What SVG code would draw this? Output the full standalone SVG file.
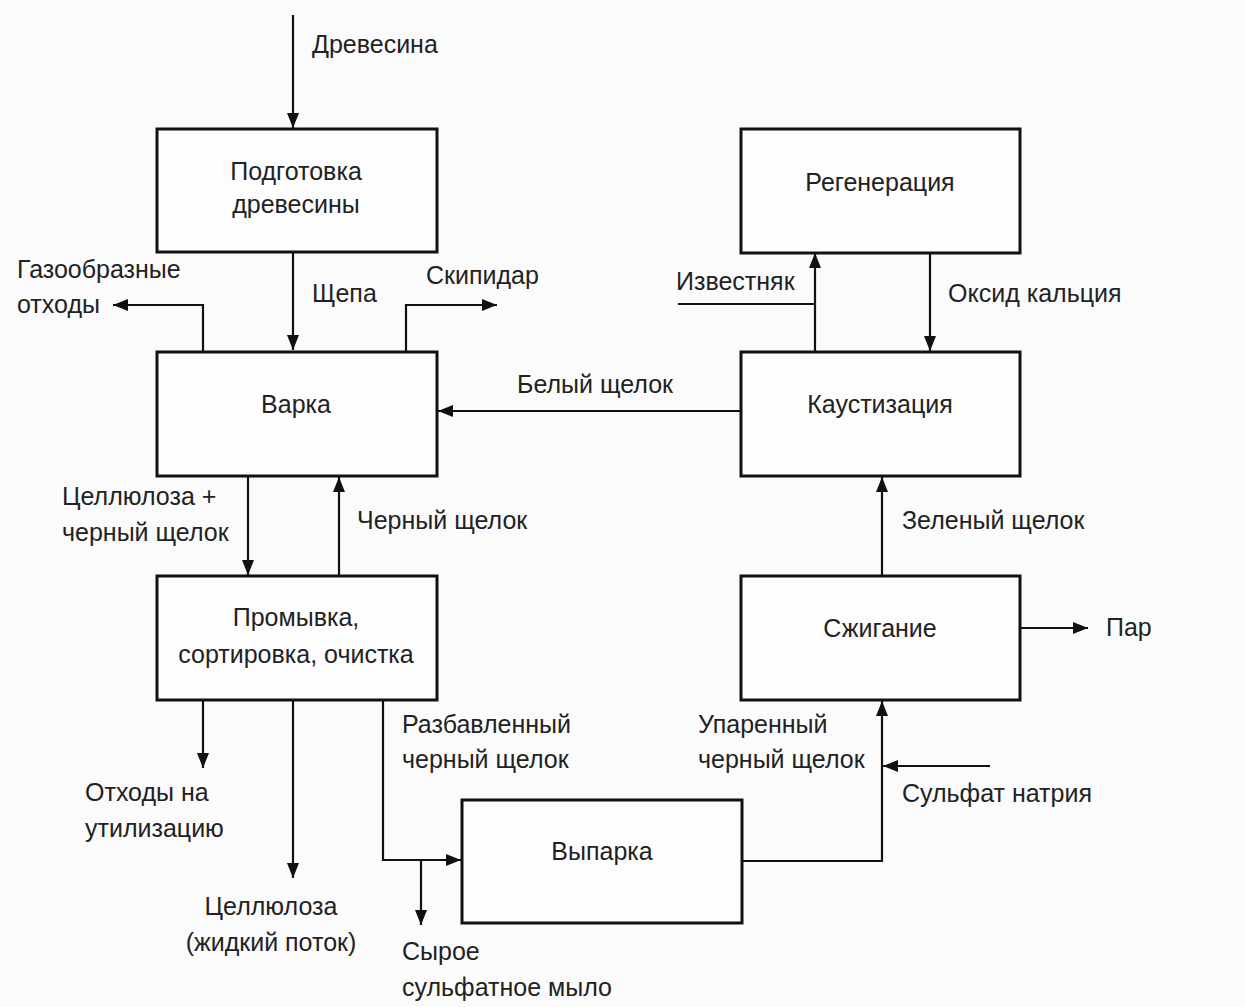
<svg xmlns="http://www.w3.org/2000/svg" width="1245" height="1007" viewBox="0 0 1245 1007">
<defs>
<style>
text{font-family:"Liberation Sans",Arial,sans-serif;font-size:25px;fill:#222}
.c{text-anchor:middle}
.box{fill:#fdfdfd;stroke:#111;stroke-width:3}
.ln{fill:none;stroke:#111;stroke-width:2.2}
.ar{marker-end:url(#ah)}
</style>
<marker id="ah" markerUnits="userSpaceOnUse" markerWidth="16" markerHeight="14" refX="15" refY="7" orient="auto">
<path d="M0,1 L15,7 L0,13 Z" fill="#111"/>
</marker>
</defs>
<rect x="0" y="0" width="1245" height="1007" fill="#fbfbfb"/>
<g id="connectors">
<path class="ln ar" d="M293,15 V128"/>
<path class="ln ar" d="M293,252 V350"/>
<path class="ln ar" d="M203,351 V305 H113"/>
<path class="ln ar" d="M406,351 V305 H497"/>
<path class="ln ar" d="M741,411 H438"/>
<path class="ln" d="M678,304 H815"/>
<path class="ln ar" d="M815,352 V253"/>
<path class="ln ar" d="M930,253 V351"/>
<path class="ln ar" d="M248,476 V575"/>
<path class="ln ar" d="M339,576 V477"/>
<path class="ln ar" d="M882,576 V477"/>
<path class="ln ar" d="M1020,628 H1088"/>
<path class="ln ar" d="M203,700 V768"/>
<path class="ln ar" d="M293,700 V878"/>
<path class="ln ar" d="M383,700 V860 H461"/>
<path class="ln ar" d="M421,860 V925"/>
<path class="ln ar" d="M741,861 H882 V701"/>
<path class="ln ar" d="M990,766 H883"/>
</g>
<g id="node-podgotovka">
<rect class="box" x="157" y="129" width="280" height="123"/>
<text class="c" x="296" y="180">Подготовка</text>
<text class="c" x="296" y="213">древесины</text>
</g>
<g id="node-varka">
<rect class="box" x="157" y="352" width="280" height="124"/>
<text class="c" x="296" y="413">Варка</text>
</g>
<g id="node-promyvka">
<rect class="box" x="157" y="576" width="280" height="124"/>
<text class="c" x="296" y="626">Промывка,</text>
<text class="c" x="296" y="663">сортировка, очистка</text>
</g>
<g id="node-regeneraciya">
<rect class="box" x="741" y="129" width="279" height="124"/>
<text class="c" x="880" y="191">Регенерация</text>
</g>
<g id="node-kaustizaciya">
<rect class="box" x="741" y="352" width="279" height="124"/>
<text class="c" x="880" y="413">Каустизация</text>
</g>
<g id="node-szhiganie">
<rect class="box" x="741" y="576" width="279" height="124"/>
<text class="c" x="880" y="637">Сжигание</text>
</g>
<g id="node-vyparka">
<rect class="box" x="462" y="800" width="280" height="123"/>
<text class="c" x="602" y="860">Выпарка</text>
</g>
<g id="labels">
<text x="312" y="53">Древесина</text>
<text x="17" y="278">Газообразные</text>
<text x="17" y="313">отходы</text>
<text x="312" y="302">Щепа</text>
<text x="426" y="284">Скипидар</text>
<text x="517" y="393">Белый щелок</text>
<text x="676" y="290">Известняк</text>
<text x="948" y="302">Оксид кальция</text>
<text x="62" y="505">Целлюлоза +</text>
<text x="62" y="541">черный щелок</text>
<text x="357" y="529">Черный щелок</text>
<text x="902" y="529">Зеленый щелок</text>
<text x="1106" y="636">Пар</text>
<text x="402" y="733">Разбавленный</text>
<text x="402" y="768">черный щелок</text>
<text x="698" y="733">Упаренный</text>
<text x="698" y="768">черный щелок</text>
<text x="902" y="802">Сульфат натрия</text>
<text x="85" y="801">Отходы на</text>
<text x="85" y="837">утилизацию</text>
<text class="c" x="271" y="915">Целлюлоза</text>
<text class="c" x="271" y="951">(жидкий поток)</text>
<text x="402" y="960">Сырое</text>
<text x="402" y="996">сульфатное мыло</text>
</g>
</svg>
